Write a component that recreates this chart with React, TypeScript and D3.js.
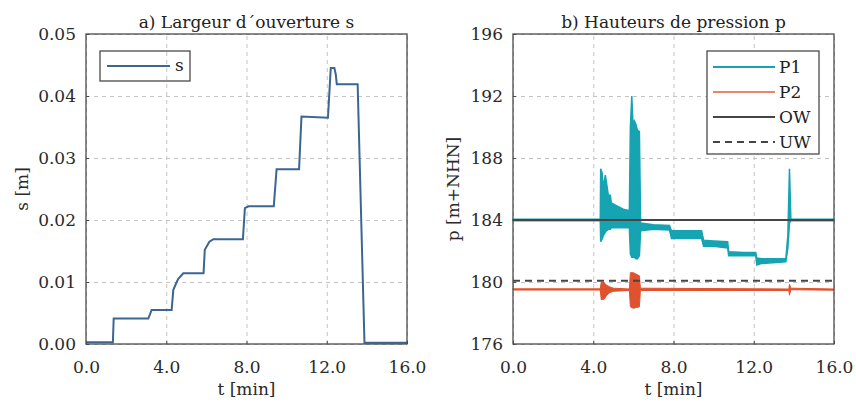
import React, { useEffect, useRef } from "react";
import * as d3 from "d3";

// a) opening width s [m] over time t [min]
const sTime = [0, 1.34, 1.38, 3.1, 3.18, 3.27, 4.27, 4.35, 4.52, 4.6, 4.85, 5.86, 5.92, 6.15, 6.35, 7.82, 7.92, 8.1, 9.36, 9.5, 10.62, 10.74, 12.06, 12.2, 12.38, 12.45, 12.5, 13.54, 13.88, 16];
const sValue = [0.0003, 0.0003, 0.0041, 0.0041, 0.0047, 0.0055, 0.0055, 0.0087, 0.0100, 0.0105, 0.0114, 0.0114, 0.0152, 0.0165, 0.0169, 0.0169, 0.0219, 0.0222, 0.0222, 0.0282, 0.0282, 0.0367, 0.0365, 0.0445, 0.0445, 0.0435, 0.0419, 0.0419, 0.0002, 0.0002];

// b) pressure heads p [m+NHN], noisy series given as lower / upper envelope
const p1Time = [0, 4.35, 4.37, 4.45, 4.5, 4.6, 4.65, 4.75, 4.85, 4.9, 5.2, 5.5, 5.8, 5.85, 5.92, 5.98, 6.05, 6.12, 6.2, 6.3, 6.36, 7.0, 7.8, 7.9, 8.5, 9.4, 9.5, 10.0, 10.7, 10.75, 11.5, 12.1, 12.15, 12.4, 13.6, 13.7, 13.78, 13.85, 16];
const p1Low = [183.95, 183.95, 182.6, 182.8, 183.0, 183.2, 183.3, 183.4, 183.4, 183.5, 183.5, 183.5, 183.5, 181.8, 181.6, 181.6, 181.6, 181.5, 181.5, 181.7, 183.3, 183.4, 183.35, 182.8, 182.8, 182.8, 182.3, 182.3, 182.2, 181.7, 181.7, 181.7, 181.1, 181.2, 181.3, 182.2, 183.8, 183.95, 183.95];
const p1High = [184.05, 184.05, 187.3, 187.0, 186.0, 186.9, 186.5, 185.6, 185.6, 185.1, 184.9, 184.7, 184.6, 190.0, 192.0, 190.2, 190.4, 190.2, 189.8, 189.7, 183.8, 183.7, 183.65, 183.3, 183.3, 183.3, 182.7, 182.65, 182.6, 181.95, 181.9, 181.9, 181.55, 181.5, 181.5, 183.0, 187.3, 184.05, 184.05];

const p2Time = [0, 4.35, 4.4, 4.55, 4.65, 4.8, 5.0, 5.8, 5.85, 6.0, 6.3, 6.35, 13.75, 13.78, 13.85, 16];
const p2Low = [179.48, 179.48, 178.85, 178.9, 179.1, 179.3, 179.4, 179.45, 178.4, 178.3, 178.4, 179.45, 179.45, 179.15, 179.5, 179.47];
const p2High = [179.56, 179.56, 180.0, 179.95, 179.8, 179.7, 179.6, 179.55, 180.6, 180.6, 180.4, 179.6, 179.55, 179.85, 179.6, 179.55];

const owLevel = 184.0;
const uwLevel = 180.08;

const tTicks = [0, 4, 8, 12, 16];
const sTicks = [0, 0.01, 0.02, 0.03, 0.04, 0.05];
const pTicks = [176, 180, 184, 188, 192, 196];

const FONT = "DejaVu Serif";
const AXIS = "#4a4a4a";
const GRID = "#c4c4c4";
const C_S = "#3a6691";
const C_P1 = "#16a3b2";
const C_P2 = "#e0522e";
const C_OW = "#454545";

function drawFrame(g, x, y, w, h, yTicks, yFmt, title, yLabel, yLabelOff) {
  // grid
  g.append("g")
    .attr("transform", `translate(0,${h})`)
    .call(d3.axisBottom(x).tickValues(tTicks).tickSize(-h).tickFormat(() => ""))
    .call((a) => a.select(".domain").remove())
    .selectAll("line")
    .attr("stroke", GRID)
    .attr("stroke-dasharray", "4,4");
  g.append("g")
    .call(d3.axisLeft(y).tickValues(yTicks).tickSize(-w).tickFormat(() => ""))
    .call((a) => a.select(".domain").remove())
    .selectAll("line")
    .attr("stroke", GRID)
    .attr("stroke-dasharray", "4,4");

  // x axis labels
  const xa = g.append("g")
    .attr("transform", `translate(0,${h})`)
    .call(d3.axisBottom(x).tickValues(tTicks).tickSize(-3).tickPadding(8).tickFormat(d3.format(".1f")));
  xa.select(".domain").remove();
  xa.selectAll("line").attr("stroke", AXIS);
  xa.selectAll("text").attr("font-family", FONT).attr("font-size", 17).attr("fill", "#2a2a2a").attr("dy", "1.25em");

  const ya = g.append("g")
    .call(d3.axisLeft(y).tickValues(yTicks).tickSize(-3).tickPadding(10).tickFormat(yFmt));
  ya.select(".domain").remove();
  ya.selectAll("line").attr("stroke", AXIS);
  ya.selectAll("text").attr("font-family", FONT).attr("font-size", 17).attr("fill", "#2a2a2a");

  g.append("text")
    .attr("x", w / 2)
    .attr("y", h + 51)
    .attr("text-anchor", "middle")
    .attr("font-family", FONT)
    .attr("font-size", 17)
    .attr("fill", "#2a2a2a")
    .text("t [min]");

  g.append("text")
    .attr("transform", "rotate(-90)")
    .attr("x", -h / 2)
    .attr("y", yLabelOff)
    .attr("text-anchor", "middle")
    .attr("font-family", FONT)
    .attr("font-size", 17)
    .attr("fill", "#2a2a2a")
    .text(yLabel);

  g.append("text")
    .attr("x", w / 2)
    .attr("y", -6)
    .attr("text-anchor", "middle")
    .attr("font-family", FONT)
    .attr("font-size", 17)
    .attr("fill", "#222")
    .text(title);
}

function box(g, x, y, w, h) {
  g.append("rect")
    .attr("x", x).attr("y", y).attr("width", w).attr("height", h)
    .attr("fill", "none").attr("stroke", AXIS).attr("stroke-width", 1.3);
}

export default function App() {
  const ref = useRef(null);

  useEffect(() => {
    const svg = d3.select(ref.current);
    svg.selectAll("*").remove();

    const plotW = 321;
    const plotH = 310;

    // ---------- left panel ----------
    const gA = svg.append("g").attr("transform", "translate(86,34)");
    const xA = d3.scaleLinear().domain([0, 16]).range([0, plotW]);
    const yA = d3.scaleLinear().domain([0, 0.05]).range([plotH, 0]);
    drawFrame(gA, xA, yA, plotW, plotH, sTicks, d3.format(".2f"), "a) Largeur d´ouverture s", "s [m]", -58);

    const lineA = d3.line().x((d) => xA(d[0])).y((d) => yA(d[1]));
    gA.append("path")
      .datum(sTime.map((t, i) => [t, sValue[i]]))
      .attr("d", lineA)
      .attr("fill", "none")
      .attr("stroke", C_S)
      .attr("stroke-width", 2);
    box(gA, 0, 0, plotW, plotH);

    // legend a
    box(gA, 14, 17, 90, 30);
    gA.append("line").attr("x1", 21).attr("x2", 84).attr("y1", 32).attr("y2", 32).attr("stroke", C_S).attr("stroke-width", 2);
    gA.append("text").attr("x", 89).attr("y", 37).attr("font-family", FONT).attr("font-size", 17).attr("fill", "#222").text("s");

    // ---------- right panel ----------
    const gB = svg.append("g").attr("transform", "translate(513,34)");
    const xB = d3.scaleLinear().domain([0, 16]).range([0, plotW]);
    const yB = d3.scaleLinear().domain([176, 196]).range([plotH, 0]);
    drawFrame(gB, xB, yB, plotW, plotH, pTicks, d3.format("d"), "b) Hauteurs de pression p", "p [m+NHN]", -54);

    const band = d3.area().x((d) => xB(d[0])).y0((d) => yB(d[1])).y1((d) => yB(d[2]));
    gB.append("path")
      .datum(p1Time.map((t, i) => [t, p1Low[i], p1High[i]]))
      .attr("d", band)
      .attr("fill", C_P1)
      .attr("stroke", C_P1)
      .attr("stroke-width", 1.5);
    gB.append("path")
      .datum(p2Time.map((t, i) => [t, p2Low[i], p2High[i]]))
      .attr("d", band)
      .attr("fill", C_P2)
      .attr("stroke", C_P2)
      .attr("stroke-width", 1);

    gB.append("line")
      .attr("x1", xB(0)).attr("x2", xB(16))
      .attr("y1", yB(owLevel)).attr("y2", yB(owLevel))
      .attr("stroke", C_OW).attr("stroke-width", 1.8);
    gB.append("line")
      .attr("x1", xB(0)).attr("x2", xB(16))
      .attr("y1", yB(uwLevel)).attr("y2", yB(uwLevel))
      .attr("stroke", C_OW).attr("stroke-width", 1.8)
      .attr("stroke-dasharray", "7,5");
    box(gB, 0, 0, plotW, plotH);

    // legend b
    const legend = [
      { name: "P1", color: C_P1, dash: null },
      { name: "P2", color: "#e8866a", dash: null },
      { name: "OW", color: C_OW, dash: null },
      { name: "UW", color: C_OW, dash: "7,5" },
    ];
    const lg = gB.append("g").attr("transform", "translate(194,17)");
    lg.append("rect").attr("width", 112).attr("height", 103).attr("fill", "white").attr("stroke", AXIS).attr("stroke-width", 1.3);
    legend.forEach((d, i) => {
      const yy = 16 + i * 25;
      lg.append("line").attr("x1", 6).attr("x2", 68).attr("y1", yy).attr("y2", yy)
        .attr("stroke", d.color).attr("stroke-width", 2).attr("stroke-dasharray", d.dash);
      lg.append("text").attr("x", 72).attr("y", yy + 6).attr("font-family", FONT).attr("font-size", 17).attr("fill", "#222").text(d.name);
    });
  }, []);

  return (
    <svg
      ref={ref}
      width={856}
      height={403}
      style={{ position: "absolute", left: 0, top: 0, background: "white" }}
    />
  );
}
